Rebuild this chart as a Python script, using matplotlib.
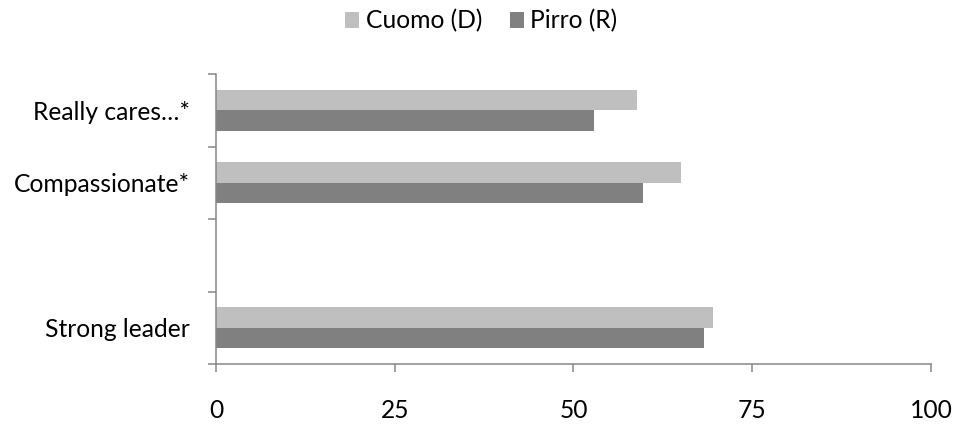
import numpy as np
import matplotlib
matplotlib.use("Agg")
import matplotlib.pyplot as plt

# Survey traits, bottom to top (the blank slot is an empty category)
categories = ["Strong leader", "", "Compassionate*", "Really cares…*"]
cuomo = [69.5, np.nan, 65.0, 58.9]
pirro = [68.2, np.nan, 59.7, 52.9]
x_ticks = [0, 25, 50, 75, 100]

CUOMO_COLOR = "#BFBFBF"
PIRRO_COLOR = "#808080"
AXIS_COLOR = "#868686"
FS = 17.7

plt.rcParams["font.family"] = ["Lato", "DejaVu Sans"]

fig = plt.figure(figsize=(9.57, 4.26), dpi=100)
ax = fig.add_axes([0.2257, 0.1455, 0.9728 - 0.2257, 0.8263 - 0.1455])

centers = np.arange(len(categories)) + 0.5
bar_h = 0.28
ax.barh(centers + bar_h / 2, cuomo, height=bar_h, color=CUOMO_COLOR, label="Cuomo (D)")
ax.barh(centers - bar_h / 2, pirro, height=bar_h, color=PIRRO_COLOR, label="Pirro (R)")

ax.set_xlim(0, 100)
ax.set_ylim(0, len(categories))

# boundary ticks on the category axis, labels sit at slot centres
ax.set_yticks(np.arange(len(categories) + 1))
ax.set_yticklabels([])
ax.set_yticks(centers, minor=True)
ax.set_yticklabels(categories, minor=True, fontsize=FS)
ax.tick_params(axis="y", which="minor", length=0, pad=19)
ax.tick_params(axis="y", which="major", length=6, width=1.1, color=AXIS_COLOR)

ax.set_xticks(x_ticks)
ax.set_xticklabels([str(t) for t in x_ticks], fontsize=FS)
ax.tick_params(axis="x", length=6, width=1.1, color=AXIS_COLOR, pad=19)

for side in ("top", "right"):
    ax.spines[side].set_visible(False)
for side in ("left", "bottom"):
    ax.spines[side].set_color(AXIS_COLOR)
    ax.spines[side].set_linewidth(1.1)

fig.legend(loc="upper center", bbox_to_anchor=(0.503, 1.03), ncol=2, frameon=False,
           fontsize=FS, handlelength=0.57, handleheight=0.57, handletextpad=0.25,
           columnspacing=1.14)

fig.savefig("out.png", dpi=100)
